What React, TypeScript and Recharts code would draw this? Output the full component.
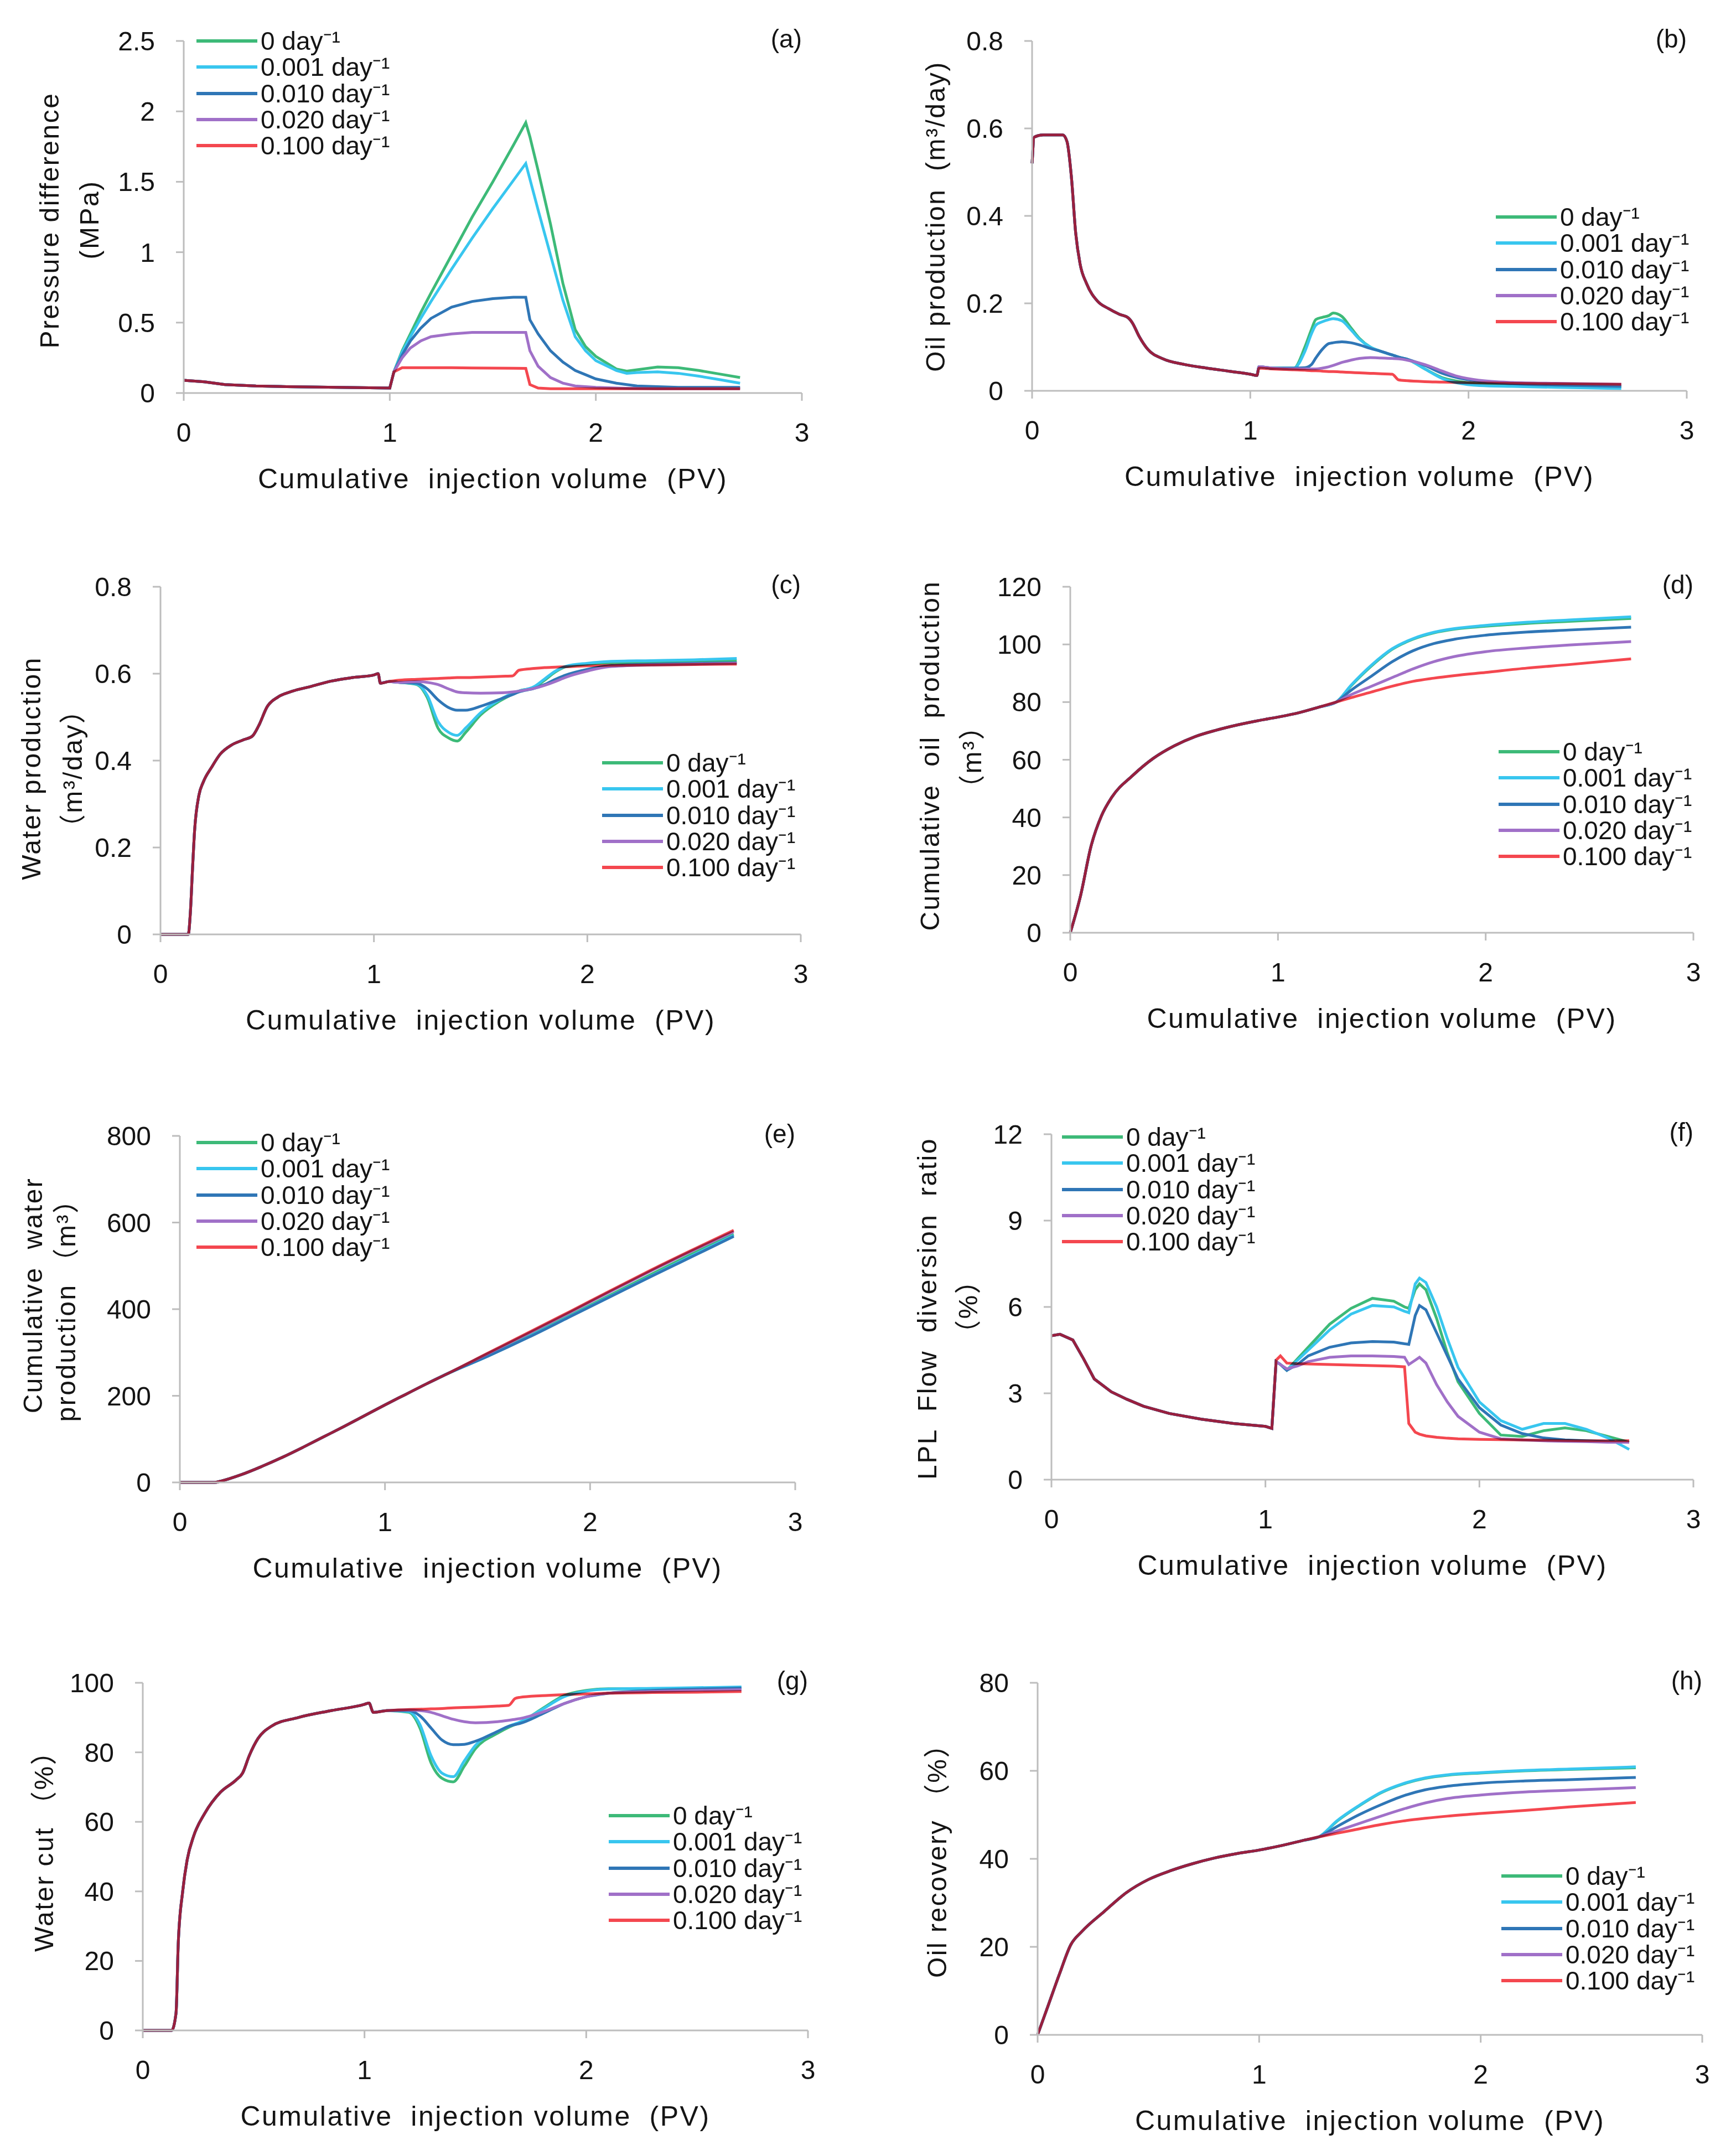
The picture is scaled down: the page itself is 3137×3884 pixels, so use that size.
import React from "react";
import { LineChart, Line, XAxis, YAxis, Legend } from "recharts";

const FONT = '"Liberation Sans", Arial, "Noto Sans CJK SC", sans-serif';
const AXIS = "#bdbdbd";
const INK = "#141414";

const RATES = ["0 day⁻¹", "0.001 day⁻¹", "0.010 day⁻¹", "0.020 day⁻¹", "0.100 day⁻¹"];
const COLORS = ["#3dba78", "#38c6ef", "#2f76b6", "#a070c8", "#f4474f"];
const X_TICKS = [0, 1, 2, 3];
const X_TITLE = "Cumulative  injection volume  (PV)";

// (a) pressure difference, MPa
const aXCommon = [0, 0.1, 0.2, 0.35, 0.5, 0.75, 1.0];
const aCommon = [0.09, 0.08, 0.06, 0.05, 0.045, 0.04, 0.035];
const aX = [1.02, 1.06, 1.1, 1.15, 1.2, 1.3, 1.4, 1.5, 1.6, 1.66, 1.68, 1.72, 1.78, 1.84, 1.9, 1.95, 2.0, 2.1, 2.15, 2.2, 2.3, 2.4, 2.5, 2.6, 2.7];
const aG = [0.15, 0.3, 0.42, 0.57, 0.71, 0.98, 1.25, 1.5, 1.76, 1.92, 1.82, 1.58, 1.2, 0.78, 0.45, 0.33, 0.26, 0.17, 0.155, 0.165, 0.185, 0.18, 0.16, 0.135, 0.11];
const aC = [0.15, 0.29, 0.4, 0.53, 0.65, 0.88, 1.1, 1.31, 1.51, 1.63, 1.52, 1.3, 0.98, 0.66, 0.4, 0.3, 0.23, 0.16, 0.14, 0.145, 0.15, 0.14, 0.12, 0.095, 0.07];
const aB = [0.15, 0.27, 0.37, 0.46, 0.53, 0.61, 0.65, 0.67, 0.68, 0.68, 0.52, 0.42, 0.3, 0.22, 0.16, 0.13, 0.1, 0.07, 0.06, 0.05, 0.045, 0.04, 0.04, 0.04, 0.04];
const aP = [0.15, 0.25, 0.32, 0.37, 0.4, 0.42, 0.43, 0.43, 0.43, 0.43, 0.3, 0.19, 0.11, 0.07, 0.05, 0.045, 0.04, 0.035, 0.033, 0.032, 0.03, 0.03, 0.03, 0.03, 0.03];
const aR = [0.15, 0.18, 0.18, 0.18, 0.18, 0.18, 0.178, 0.177, 0.176, 0.175, 0.06, 0.035, 0.03, 0.03, 0.03, 0.03, 0.03, 0.03, 0.03, 0.03, 0.03, 0.03, 0.03, 0.03, 0.03];

// (b) oil production, m3/day
const bXCommon = [0, 0.01, 0.05, 0.1, 0.14, 0.16, 0.18, 0.2, 0.22, 0.25, 0.3, 0.35, 0.4, 0.44, 0.46, 0.49, 0.53, 0.6, 0.7, 0.8, 0.9, 1.0, 1.03];
const bCommon = [0.52, 0.58, 0.585, 0.585, 0.585, 0.57, 0.49, 0.36, 0.29, 0.245, 0.205, 0.188, 0.175, 0.167, 0.155, 0.125, 0.095, 0.073, 0.06, 0.052, 0.045, 0.038, 0.035];
const bX = [1.04, 1.1, 1.2, 1.25, 1.28, 1.3, 1.33, 1.36, 1.38, 1.42, 1.46, 1.5, 1.55, 1.6, 1.65, 1.68, 1.72, 1.8, 1.88, 1.95, 2.05, 2.2, 2.4, 2.7];
const bG = [0.055, 0.052, 0.052, 0.1, 0.14, 0.163, 0.168, 0.172, 0.178, 0.17, 0.145, 0.12, 0.1, 0.09, 0.082, 0.077, 0.072, 0.05, 0.03, 0.022, 0.016, 0.013, 0.011, 0.01];
const bC = [0.055, 0.052, 0.052, 0.09, 0.13, 0.15, 0.158, 0.163, 0.165, 0.16, 0.14, 0.118, 0.1, 0.09, 0.082, 0.077, 0.072, 0.05, 0.028, 0.018, 0.012, 0.01, 0.008, 0.005];
const bB = [0.055, 0.052, 0.052, 0.053, 0.06, 0.075, 0.095, 0.108, 0.11, 0.112, 0.11, 0.105, 0.097, 0.09, 0.082, 0.077, 0.072, 0.058, 0.04, 0.03, 0.022, 0.016, 0.013, 0.01];
const bP = [0.055, 0.052, 0.05, 0.05, 0.05, 0.05, 0.052, 0.055, 0.058, 0.065, 0.07, 0.074, 0.076, 0.075, 0.074, 0.073, 0.07, 0.06, 0.045, 0.033, 0.024, 0.019, 0.017, 0.015];
const bR = [0.052, 0.05, 0.048, 0.047, 0.046, 0.046, 0.045, 0.044, 0.044, 0.043, 0.042, 0.041, 0.04, 0.039, 0.038, 0.025, 0.023, 0.021, 0.02, 0.019, 0.018, 0.017, 0.016, 0.015];

// (c) water production, m3/day
const cXCommon = [0, 0.13, 0.14, 0.15, 0.16, 0.18, 0.2, 0.24, 0.28, 0.33, 0.39, 0.43, 0.46, 0.5, 0.55, 0.62, 0.7, 0.8, 0.9, 1.0, 1.02, 1.03, 1.07];
const cCommon = [0, 0, 0.05, 0.15, 0.24, 0.32, 0.35, 0.385, 0.415, 0.435, 0.448, 0.456, 0.48, 0.524, 0.546, 0.56, 0.57, 0.583, 0.591, 0.597, 0.6, 0.578, 0.582];
const cX = [1.12, 1.2, 1.25, 1.3, 1.35, 1.39, 1.43, 1.5, 1.6, 1.65, 1.68, 1.75, 1.8, 1.85, 1.9, 2.0, 2.1, 2.3, 2.5, 2.7];
const cG = [0.58, 0.575, 0.545, 0.475, 0.452, 0.445, 0.465, 0.505, 0.54, 0.553, 0.56, 0.568, 0.585, 0.604, 0.616, 0.622, 0.625, 0.627, 0.628, 0.63];
const cC = [0.58, 0.576, 0.55, 0.49, 0.465, 0.458, 0.475, 0.51, 0.543, 0.555, 0.56, 0.57, 0.588, 0.606, 0.617, 0.624, 0.628, 0.63, 0.632, 0.635];
const cB = [0.58, 0.578, 0.565, 0.54, 0.522, 0.516, 0.516, 0.525, 0.543, 0.552, 0.558, 0.566, 0.575, 0.587, 0.597, 0.61, 0.618, 0.622, 0.624, 0.625];
const cP = [0.58, 0.582, 0.58, 0.575, 0.565, 0.558, 0.556, 0.555, 0.556, 0.558, 0.56, 0.566, 0.573, 0.582, 0.592, 0.606, 0.616, 0.62, 0.622, 0.624];
const cR = [0.585, 0.587, 0.588, 0.589, 0.59, 0.591, 0.591, 0.592, 0.594, 0.595, 0.608, 0.612, 0.614, 0.615, 0.616, 0.618, 0.619, 0.62, 0.621, 0.622];

// (d) cumulative oil production, m3
const dXCommon = [0, 0.05, 0.1, 0.15, 0.2, 0.3, 0.4, 0.5, 0.6, 0.7, 0.8, 0.9, 1.0, 1.1, 1.2, 1.28];
const dCommon = [0, 13, 30, 40.5, 47, 54.5, 60.5, 64.8, 68, 70.2, 72, 73.5, 74.8, 76.3, 78.3, 80];
const dX = [1.35, 1.45, 1.55, 1.65, 1.75, 1.85, 2.0, 2.2, 2.4, 2.7];
const dG = [85.5, 92.5, 98.3, 101.8, 104, 105.3, 106.3, 107.3, 108, 109];
const dC = [85.7, 92.8, 98.5, 102, 104.2, 105.5, 106.6, 107.7, 108.5, 109.6];
const dB = [84, 89, 94, 97.8, 100.3, 101.8, 103.2, 104.3, 105, 106];
const dP = [82.5, 85.5, 88.5, 91.5, 94, 95.8, 97.5, 98.8, 99.8, 101];
const dR = [81.5, 83.5, 85.5, 87.2, 88.3, 89.2, 90.3, 91.8, 93, 95];

// (e) cumulative water production, m3
const eXCommon = [0, 0.1, 0.17, 0.2, 0.3, 0.4, 0.5, 0.6, 0.7, 0.8, 0.9, 1.0, 1.1, 1.2, 1.3];
const eCommon = [0, 0, 0, 3, 18, 37, 58, 81, 105, 129, 154, 179, 203, 227, 250];
const eX = [1.5, 1.7, 1.9, 2.1, 2.3, 2.5, 2.7];
const eG = [293, 338, 385, 433, 481, 528, 573];
const eC = [291, 336, 383, 430, 477, 524, 570];
const eB = [291, 335, 382, 429, 476, 522, 568];
const eP = [297, 344, 392, 441, 489, 535, 579];
const eR = [298, 346, 394, 443, 491, 537, 582];

// (f) LPL flow diversion ratio, %
const fXCommon = [0, 0.04, 0.1, 0.15, 0.2, 0.28, 0.35, 0.43, 0.55, 0.7, 0.85, 1.0, 1.03];
const fCommon = [5.0, 5.05, 4.85, 4.2, 3.5, 3.05, 2.8, 2.55, 2.3, 2.1, 1.95, 1.85, 1.78];
const fX = [1.05, 1.07, 1.1, 1.15, 1.2, 1.3, 1.4, 1.5, 1.6, 1.65, 1.67, 1.7, 1.72, 1.75, 1.8, 1.85, 1.9, 2.0, 2.1, 2.2, 2.3, 2.4, 2.5, 2.6, 2.7];
const fG = [4.1, 4.0, 3.8, 4.2, 4.6, 5.4, 5.95, 6.3, 6.2, 6.0, 5.95, 6.6, 6.8, 6.6, 5.6, 4.4, 3.4, 2.3, 1.55, 1.5, 1.7, 1.8, 1.7, 1.5, 1.3];
const fC = [4.1, 4.0, 3.8, 4.15, 4.5, 5.2, 5.75, 6.05, 6.0, 5.85, 5.8, 6.8, 7.0, 6.85, 6.0, 4.9, 3.9, 2.7, 2.05, 1.75, 1.95, 1.95, 1.75, 1.45, 1.05];
const fB = [4.1, 4.0, 3.8, 4.0, 4.3, 4.6, 4.75, 4.8, 4.78, 4.72, 4.7, 5.7, 6.05, 5.9, 5.1, 4.3, 3.5, 2.5, 1.9, 1.6, 1.45, 1.38, 1.35, 1.32, 1.3];
const fP = [4.1, 4.0, 3.85, 3.95, 4.1, 4.25, 4.3, 4.3, 4.28, 4.25, 4.0, 4.15, 4.25, 4.05, 3.3, 2.7, 2.2, 1.65, 1.42, 1.38, 1.35, 1.33, 1.32, 1.3, 1.3];
const fR = [4.15, 4.3, 4.05, 4.03, 4.02, 4.0, 3.98, 3.96, 3.94, 3.92, 1.95, 1.65, 1.58, 1.52, 1.47, 1.44, 1.42, 1.4, 1.39, 1.38, 1.37, 1.36, 1.35, 1.35, 1.35];

// (g) water cut, %
const gXCommon = [0, 0.13, 0.15, 0.16, 0.18, 0.2, 0.23, 0.28, 0.35, 0.42, 0.45, 0.48, 0.52, 0.58, 0.7, 0.85, 1.0, 1.02, 1.04, 1.1];
const gCommon = [0, 0, 5, 25, 40, 49, 56, 62.5, 68.5, 72, 74, 79, 84, 87.5, 90, 92, 93.8, 94.2, 91.5, 92];
const gX = [1.2, 1.25, 1.3, 1.35, 1.4, 1.45, 1.5, 1.6, 1.65, 1.68, 1.7, 1.8, 1.9, 2.0, 2.1, 2.3, 2.5, 2.7];
const gG = [91.5, 87, 77, 72.5, 71.5, 76, 81, 85.5, 87.2, 88, 88.5, 92.5, 96.3, 97.8, 98.3, 98.3, 98.4, 98.5];
const gC = [91.7, 88, 79, 74, 73, 77.5, 82, 86, 87.5, 88.2, 88.7, 92.3, 96, 97.6, 98.2, 98.4, 98.6, 98.8];
const gB = [92, 90.5, 87, 83.5, 82.2, 82.3, 83.2, 86, 87.5, 88, 88.3, 91, 94, 96, 97, 97.8, 98.2, 98.5];
const gP = [92.2, 92, 91.5, 90.5, 89.5, 88.8, 88.5, 88.8, 89.2, 89.5, 89.7, 91.5, 94, 96, 97, 97.5, 97.8, 98];
const gR = [92.3, 92.4, 92.5, 92.6, 92.8, 92.9, 93, 93.3, 93.5, 95.5, 95.8, 96.3, 96.6, 96.8, 97, 97.2, 97.3, 97.5];

// (h) oil recovery, %
const hXCommon = [0, 0.05, 0.1, 0.15, 0.2, 0.3, 0.4, 0.5, 0.6, 0.7, 0.8, 0.9, 1.0, 1.1, 1.2, 1.27];
const hCommon = [0, 7, 14, 20.5, 23.5, 28, 32.3, 35.3, 37.3, 38.9, 40.2, 41.2, 42, 43, 44.2, 45];
const hX = [1.35, 1.45, 1.55, 1.65, 1.75, 1.85, 2.0, 2.2, 2.4, 2.7];
const hG = [48.5, 52, 55, 57, 58.3, 59, 59.5, 60, 60.3, 60.7];
const hC = [48.6, 52.1, 55.1, 57.1, 58.4, 59.1, 59.6, 60.1, 60.4, 60.9];
const hB = [47.3, 50, 52.3, 54.3, 55.7, 56.5, 57.2, 57.7, 58, 58.5];
const hP = [46.3, 48, 49.7, 51.3, 52.7, 53.7, 54.5, 55.2, 55.6, 56.2];
const hR = [45.8, 46.8, 47.8, 48.6, 49.2, 49.7, 50.3, 51, 51.8, 52.8];

function buildRows(xc: number[], common: number[], xs: number[], series: number[][]) {
  const rows = xc.map((x, i) => {
    const r: Record<string, number> = { x };
    series.forEach((_, k) => (r[`s${k}`] = common[i]));
    return r;
  });
  xs.forEach((x, i) => {
    const r: Record<string, number> = { x };
    series.forEach((s, k) => (r[`s${k}`] = s[i]));
    rows.push(r);
  });
  return rows;
}

const PANELS = [
  { id: "a", x0: 332, x3: 1449, yt: 74, yb: 710, yMax: 2.5, yTicks: [0, 0.5, 1, 1.5, 2, 2.5], curve: "linear", leg: [355, 74],
    rows: buildRows(aXCommon, aCommon, aX, [aG, aC, aB, aP, aR]) },
  { id: "b", x0: 1865, x3: 3048, yt: 74, yb: 706, yMax: 0.8, yTicks: [0, 0.2, 0.4, 0.6, 0.8], curve: "monotone", leg: [2703, 392],
    rows: buildRows(bXCommon, bCommon, bX, [bG, bC, bB, bP, bR]) },
  { id: "c", x0: 290, x3: 1447, yt: 1060, yb: 1688, yMax: 0.8, yTicks: [0, 0.2, 0.4, 0.6, 0.8], curve: "monotone", leg: [1088, 1378],
    rows: buildRows(cXCommon, cCommon, cX, [cG, cC, cB, cP, cR]) },
  { id: "d", x0: 1934, x3: 3060, yt: 1060, yb: 1685, yMax: 120, yTicks: [0, 20, 40, 60, 80, 100, 120], curve: "monotone", leg: [2708, 1358],
    rows: buildRows(dXCommon, dCommon, dX, [dG, dC, dB, dP, dR]) },
  { id: "e", x0: 325, x3: 1437, yt: 2052, yb: 2678, yMax: 800, yTicks: [0, 200, 400, 600, 800], curve: "monotone", leg: [355, 2064],
    rows: buildRows(eXCommon, eCommon, eX, [eG, eC, eB, eP, eR]) },
  { id: "f", x0: 1900, x3: 3060, yt: 2049, yb: 2673, yMax: 12, yTicks: [0, 3, 6, 9, 12], curve: "linear", leg: [1919, 2054],
    rows: buildRows(fXCommon, fCommon, fX, [fG, fC, fB, fP, fR]) },
  { id: "g", x0: 258, x3: 1460, yt: 3040, yb: 3668, yMax: 100, yTicks: [0, 20, 40, 60, 80, 100], curve: "monotone", leg: [1100, 3280],
    rows: buildRows(gXCommon, gCommon, gX, [gG, gC, gB, gP, gR]) },
  { id: "h", x0: 1875, x3: 3076, yt: 3040, yb: 3676, yMax: 80, yTicks: [0, 20, 40, 60, 80], curve: "monotone", leg: [2713, 3389],
    rows: buildRows(hXCommon, hCommon, hX, [hG, hC, hB, hP, hR]) },
];

// y-axis titles: [centre x, centre y, text]
const Y_TITLES: [number, number, string][] = [
  [90, 398, "Pressure difference"],
  [162, 397, "(MPa)"],
  [1691, 391, "Oil production  (m³/day)"],
  [57, 1388, "Water production"],
  [132, 1388, "（m³/day）"],
  [1681, 1365, "Cumulative  oil  production"],
  [1757, 1367, "（m³）"],
  [60, 2340, "Cumulative  water"],
  [120, 2355, "production （m³）"],
  [1676, 2364, "LPL  Flow  diversion  ratio"],
  [1750, 2360, "（%）"],
  [80, 3332, "Water cut （%）"],
  [1694, 3349, "Oil recovery （%）"],
];

const PAD = { l: 220, t: 60, r: 60, b: 130 };
const ROW_H = 47.3;

function LegendBox(props: any) {
  const items = props.payload || [];
  return (
    <div style={{ fontFamily: FONT, fontSize: 46, color: INK }}>
      {items.map((it: any) => (
        <div key={it.value} style={{ display: "flex", alignItems: "center", height: ROW_H }}>
          <span style={{ display: "inline-block", width: 110, height: 6, background: it.color, marginRight: 6 }} />
          <span style={{ lineHeight: 1, whiteSpace: "nowrap" }}>{it.value}</span>
        </div>
      ))}
    </div>
  );
}

function Panel({ p }: { p: any }) {
  const w = p.x3 - p.x0 + PAD.l + PAD.r;
  const h = p.yb - p.yt + PAD.t + PAD.b;
  const left = p.x0 - PAD.l;
  const top = p.yt - PAD.t;
  const tickStyle = { fontSize: 48, fill: INK, fontFamily: FONT };
  return (
    <div style={{ position: "absolute", left, top, width: w, height: h }}>
      <LineChart width={w} height={h} data={p.rows} margin={{ top: PAD.t, right: PAD.r, bottom: 0, left: 0 }}>
        <XAxis
          dataKey="x"
          type="number"
          domain={[0, 3]}
          ticks={X_TICKS}
          height={PAD.b}
          tick={tickStyle}
          tickSize={14}
          tickMargin={40}
          axisLine={{ stroke: AXIS, strokeWidth: 3 }}
          tickLine={{ stroke: AXIS, strokeWidth: 3 }}
        />
        <YAxis
          type="number"
          domain={[0, p.yMax]}
          ticks={p.yTicks}
          width={PAD.l}
          tick={tickStyle}
          tickSize={14}
          tickMargin={38}
          axisLine={{ stroke: AXIS, strokeWidth: 3 }}
          tickLine={{ stroke: AXIS, strokeWidth: 3 }}
        />
        <Legend
          layout="vertical"
          align="center"
          verticalAlign="middle"
          content={<LegendBox />}
          wrapperStyle={{ left: p.leg[0] - left, top: p.leg[1] - ROW_H / 2 - top, width: 420 }}
        />
        {RATES.map((name, i) => (
          <Line
            key={name}
            name={name}
            className={i === RATES.length - 1 ? "rate-top" : undefined}
            type={p.curve}
            dataKey={`s${i}`}
            stroke={COLORS[i]}
            strokeWidth={5}
            dot={false}
            activeDot={false}
            isAnimationActive={false}
          />
        ))}
      </LineChart>
    </div>
  );
}

export default function App() {
  return (
    <div style={{ position: "absolute", left: 0, top: 0, width: 3137, height: 3884, background: "#fff", fontFamily: FONT, color: INK }}>
      {/* where all five runs coincide the top (red) line darkens over the others, as in the source figure */}
      <style>{`.rate-top path { mix-blend-mode: multiply; }`}</style>
      {PANELS.map((p) => (
        <Panel key={p.id} p={p} />
      ))}
      {PANELS.map((p) => (
        <div
          key={`l${p.id}`}
          style={{ position: "absolute", left: p.x3 - 200, top: p.yt - 27, width: 200, textAlign: "right", fontSize: 46, lineHeight: 1 }}
        >
          ({p.id})
        </div>
      ))}
      {PANELS.map((p) => (
        <div
          key={`x${p.id}`}
          style={{
            position: "absolute",
            left: (p.x0 + p.x3) / 2,
            top: p.yb + 155,
            transform: "translate(-50%, -50%)",
            whiteSpace: "pre",
            fontSize: 50,
            letterSpacing: 2.5,
            lineHeight: 1,
          }}
        >
          {X_TITLE}
        </div>
      ))}
      {Y_TITLES.map(([cx, cy, text]) => (
        <div
          key={text + cy}
          style={{
            position: "absolute",
            left: cx,
            top: cy,
            transform: "translate(-50%, -50%) rotate(-90deg)",
            whiteSpace: "pre",
            fontSize: 48,
            letterSpacing: 2.5,
            lineHeight: 1,
          }}
        >
          {text}
        </div>
      ))}
    </div>
  );
}
